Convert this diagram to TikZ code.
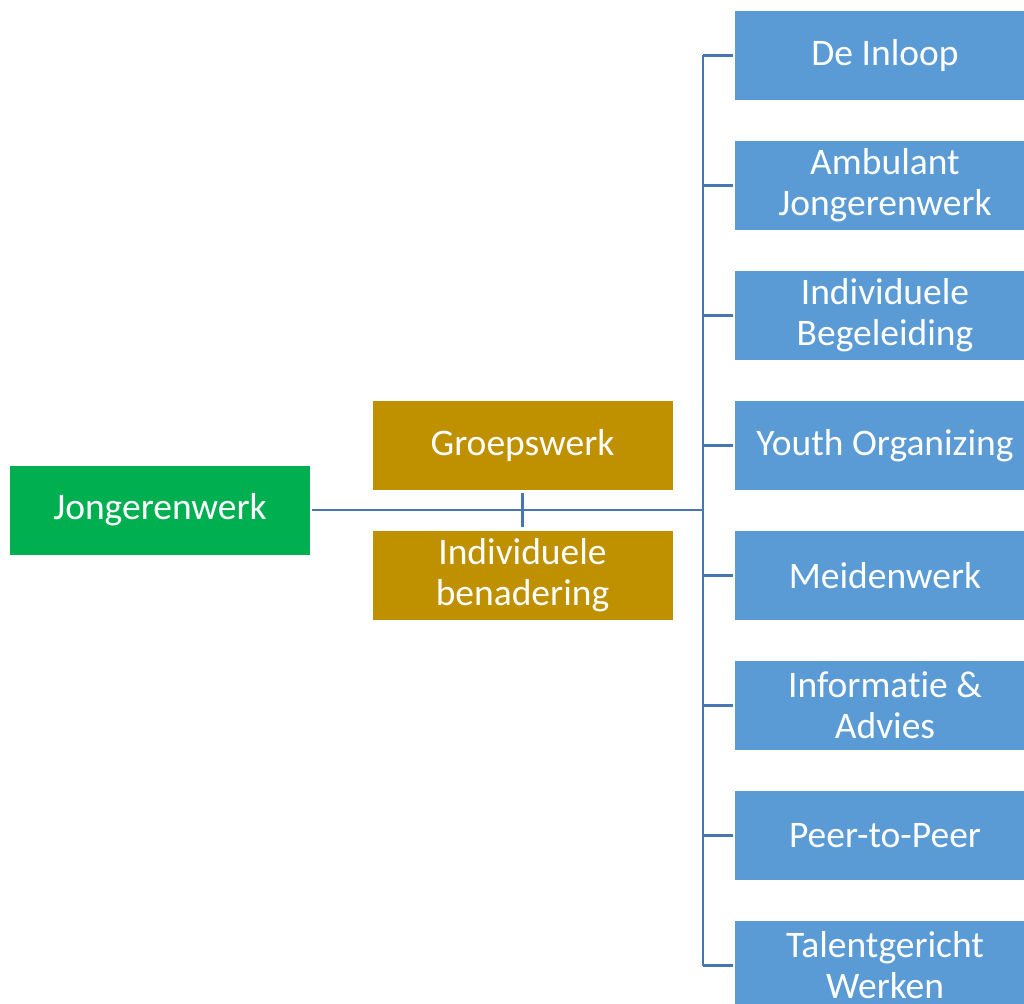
\documentclass[tikz,border=0pt]{standalone}
\usepackage{fontspec}
\setmainfont{Carlito}[Ligatures=NoCommon]
\definecolor{rootColor}{HTML}{00B050}
\definecolor{waysColor}{HTML}{BF9000}
\definecolor{formColor}{HTML}{5B9BD5}
\definecolor{linkColor}{HTML}{4776B0}
\newcommand{\boxfont}[0]{%
      \fontsize{37.5}{41}\selectfont
    }

\begin{document}
\begin{tikzpicture}[x=1pt,y=-1pt,
    box/.style={shape=rectangle,minimum width=300pt,minimum height=89pt,inner sep=0pt,text=white,align=center,font=\boxfont},
    link/.style={draw=linkColor,line width=2.6pt}]
      \clip (0,0) rectangle (1024,1003);

      \node[box,fill=rootColor] (J) at (160,510) {Jongerenwerk};

      \node[box,fill=waysColor] (W1) at (522.5,445.5) {Groepswerk};
      \node[box,fill=waysColor] (W2) at (522.5,575) {Individuele\\benadering};

      \node[box,fill=formColor] (F1) at (885,55.5) {De Inloop};
      \node[box,fill=formColor] (F2) at (885,185.5) {Ambulant\\Jongerenwerk};
      \node[box,fill=formColor] (F3) at (885,315.5) {Individuele\\Begeleiding};
      \node[box,fill=formColor] (F4) at (885,445.5) {Youth Organizing};
      \node[box,fill=formColor] (F5) at (885,575.5) {Meidenwerk};
      \node[box,fill=formColor] (F6) at (885,705.5) {Informatie \&\\Advies};
      \node[box,fill=formColor] (F7) at (885,835.5) {Peer-to-Peer};
      \node[box,fill=formColor] (F8) at (885,965.5) {Talentgericht\\Werken};

      \coordinate (B) at (703,510);

      \draw[link,shorten <=2pt] (J) -- (B);
      \draw[link,shorten <=3pt,shorten >=3pt] (W1) -- (W2);

      \draw[link] (B |- F1) -- (B |- F8);

      \draw[link,shorten >=2pt] (B |- F1) -- (F1);
      \draw[link,shorten >=2pt] (B |- F2) -- (F2);
      \draw[link,shorten >=2pt] (B |- F3) -- (F3);
      \draw[link,shorten >=2pt] (B |- F4) -- (F4);
      \draw[link,shorten >=2pt] (B |- F5) -- (F5);
      \draw[link,shorten >=2pt] (B |- F6) -- (F6);
      \draw[link,shorten >=2pt] (B |- F7) -- (F7);
      \draw[link,shorten >=2pt] (B |- F8) -- (F8);
  \end{tikzpicture}
\end{document}
